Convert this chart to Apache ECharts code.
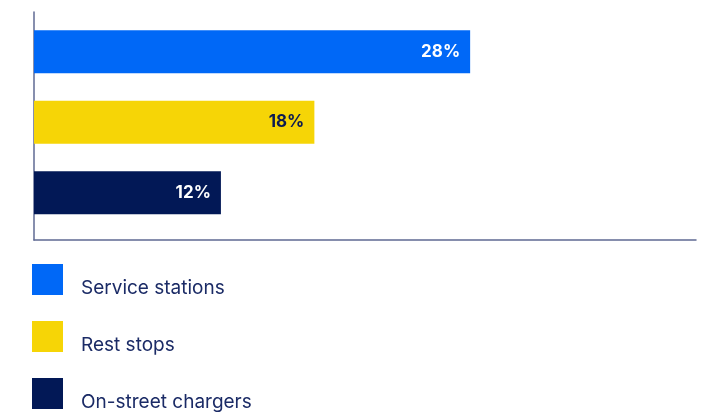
<!DOCTYPE html>
<html>
<head>
<meta charset="utf-8">
<script src="https://cdn.jsdelivr.net/npm/echarts@6/dist/echarts.min.js"></script>
<style>html,body{margin:0;padding:0;background:#fff}#c{width:711px;height:412px}</style>
</head>
<body>
<div id="c"></div>
<script>
const categories = ['Service stations', 'Rest stops', 'On-street chargers'];
const values = [28, 18, 12];
const colors = ['#0068F7', '#F6D506', '#021856'];
const labelColors = ['#ffffff', '#0B1A52', '#ffffff'];
const xMax = 42.5;

const FONT = 'Inter';
const series = categories.map((name, i) => ({
  name: name,
  type: 'bar',
  stack: 'all',
  xAxisIndex: 0,
  yAxisIndex: 0,
  barWidth: 43,
  itemStyle: { color: colors[i] },
  label: {
    show: true,
    position: 'insideRight',
    distance: 10,
    formatter: '{c}%',
    color: labelColors[i],
    fontFamily: FONT,
    fontWeight: 'bold',
    fontSize: 17
  },
  data: values.map((v, j) => (j === i ? v : '-'))
}));

const chart = echarts.init(document.getElementById('c'), null, { renderer: 'canvas' });
chart.setOption({
  animation: false,
  backgroundColor: '#ffffff',
  grid: [
    { left: 34, right: 15, top: 16.5, height: 211.5 },
    { left: 34, right: 15, top: 12, height: 228 }
  ],
  xAxis: [
    { gridIndex: 0, type: 'value', min: 0, max: xMax, show: false },
    { gridIndex: 1, type: 'value', min: 0, max: 1,
      axisLine: { show: true, lineStyle: { color: '#5F6A93', width: 1.5 } },
      axisTick: { show: false }, axisLabel: { show: false }, splitLine: { show: false } }
  ],
  yAxis: [
    { gridIndex: 0, type: 'category', inverse: true, data: categories, show: false },
    { gridIndex: 1, type: 'value', min: 0, max: 1,
      axisLine: { show: true, lineStyle: { color: '#5F6A93', width: 1.5 } },
      axisTick: { show: false }, axisLabel: { show: false }, splitLine: { show: false } }
  ],
  legend: {
    orient: 'vertical',
    left: 32,
    top: 264,
    height: 300,
    padding: 0,
    itemWidth: 31,
    itemHeight: 31,
    itemGap: 23,
    icon: 'rect',
    data: categories,
    formatter: name => '{t|' + name + '}',
    textStyle: {
      fontFamily: FONT,
      fontSize: 19,
      color: '#1B2B66',
      rich: {
        t: { fontFamily: FONT, fontSize: 19, color: '#1B2B66', padding: [18, 0, 0, 13] }
      }
    }
  },
  series: series
});
</script>
</body>
</html>
